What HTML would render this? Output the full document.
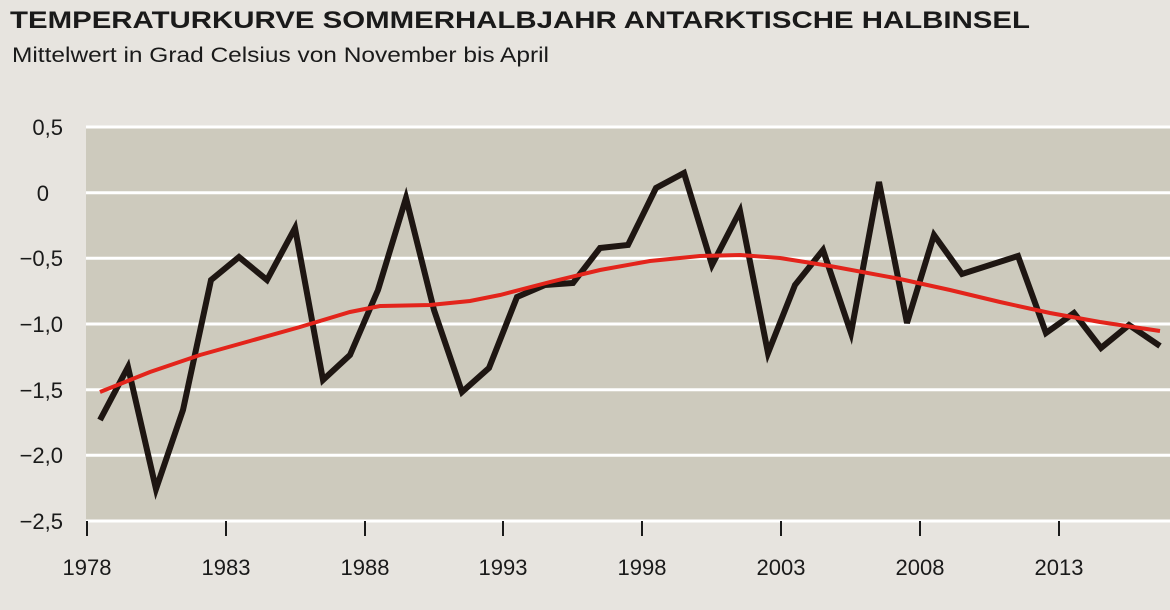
<!DOCTYPE html>
<html><head><meta charset="utf-8"><style>
body{margin:0;width:1170px;height:605px;background:#e7e4df;overflow:hidden;font-family:"Liberation Sans",Arial,sans-serif}
</style></head><body>
<svg width="1170" height="605" xmlns="http://www.w3.org/2000/svg">
<text x="10" y="28" font-family="Liberation Sans,Arial,sans-serif" font-weight="bold" font-size="24" fill="#1a1a1a" textLength="1020" lengthAdjust="spacingAndGlyphs">TEMPERATURKURVE SOMMERHALBJAHR ANTARKTISCHE HALBINSEL</text>
<text x="12" y="62" font-family="Liberation Sans,Arial,sans-serif" font-size="21" fill="#1a1a1a" textLength="537" lengthAdjust="spacingAndGlyphs">Mittelwert in Grad Celsius von November bis April</text>
<rect x="86" y="127" width="1084" height="394" fill="#cdcabd"/>
<g stroke="#fff" stroke-width="3">
<line x1="86" x2="1170" y1="127" y2="127"/><line x1="86" x2="1170" y1="192.7" y2="192.7"/>
<line x1="86" x2="1170" y1="258.3" y2="258.3"/><line x1="86" x2="1170" y1="324" y2="324"/>
<line x1="86" x2="1170" y1="389.7" y2="389.7"/><line x1="86" x2="1170" y1="455.3" y2="455.3"/>
</g>
<line x1="86" x2="1170" y1="521" y2="521" stroke="#fff" stroke-width="3"/>
<g stroke="#1a1a1a" stroke-width="2">
<line x1="87" x2="87" y1="521" y2="536"/><line x1="226" x2="226" y1="521" y2="536"/><line x1="365" x2="365" y1="521" y2="536"/><line x1="503" x2="503" y1="521" y2="536"/><line x1="642" x2="642" y1="521" y2="536"/><line x1="781" x2="781" y1="521" y2="536"/><line x1="920" x2="920" y1="521" y2="536"/><line x1="1059" x2="1059" y1="521" y2="536"/>
</g>
<g font-family="Liberation Sans,Arial,sans-serif" font-size="22" fill="#1a1a1a" text-anchor="end">
<text x="63" y="135">0,5</text><text x="49" y="201">0</text><text x="63" y="266">−0,5</text><text x="63" y="332">−1,0</text><text x="63" y="398">−1,5</text><text x="63" y="463">−2,0</text><text x="63" y="529">−2,5</text>
</g>
<g font-family="Liberation Sans,Arial,sans-serif" font-size="22" fill="#1a1a1a" text-anchor="middle">
<text x="87" y="575">1978</text><text x="226" y="575">1983</text><text x="365" y="575">1988</text><text x="503" y="575">1993</text><text x="642" y="575">1998</text><text x="781" y="575">2003</text><text x="920" y="575">2008</text><text x="1059" y="575">2013</text>
</g>
<polyline fill="none" stroke="#1e1612" stroke-width="6" stroke-linejoin="miter" points="100,420 128,367 156,489 183,410 211,280 239,257 267,280 295,228 323,380 350,355 378,290 406,198 434,310 462,392 489,368 517,297 545,285 573,283 600,248 628,245 656,188 684,173 712,265 740,211 768,353 795,285 823,250 851,333 879,182 907,323 934,235 962,274 990,265 1018,256 1046,333 1074,313 1101,348 1129,325 1160,346"/>
<polyline fill="none" stroke="#e3241b" stroke-width="4" points="100,392 150,372 200,355 250,341 300,327 350,312 380,306 430,305 470,301 500,295 550,282 600,270 650,261 700,256 740,255 780,258 830,266 900,279 950,290 1000,302 1050,313 1100,322 1160,331"/>
</svg>
</body></html>
